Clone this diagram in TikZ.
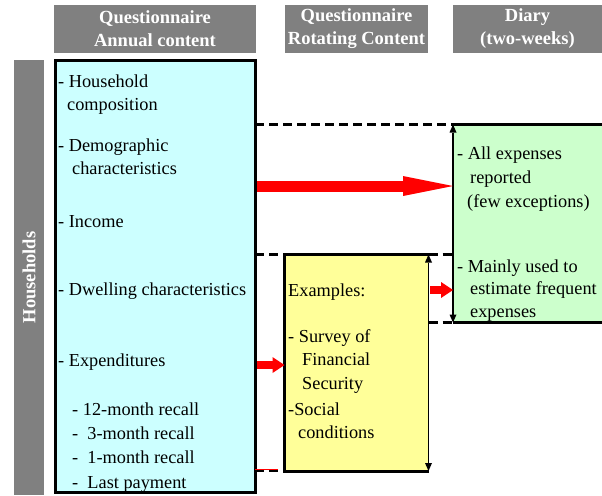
\documentclass[tikz,border=0pt]{standalone}
\usepackage{fontspec}
\setmainfont{Liberation Serif}
\usetikzlibrary{arrows.meta}
\definecolor{hdrgray}{RGB}{128,128,128}
\definecolor{qblue}{RGB}{204,255,255}
\definecolor{qyellow}{RGB}{255,255,153}
\definecolor{dgreen}{RGB}{204,255,204}
\tikzstyle{hdr}=[fill=hdrgray,text=white,font=\bfseries\fontsize{18.5}{23}\selectfont,align=center,inner sep=0pt]
\tikzstyle{panel}=[inner sep=0pt,outer sep=0pt]
\tikzstyle{item}=[anchor=base west,inner sep=0pt,align=left,font=\fontsize{18.3}{23}\selectfont]
\tikzstyle{border}=[draw=black,line width=3pt]
\tikzstyle{guide}=[draw=black,line width=2.5pt,dash pattern=on 9pt off 5pt]
\tikzstyle{span}=[{Triangle[length=8pt,width=7pt,line width=0pt]}-{Triangle[length=8pt,width=7pt,line width=0pt]},draw=black,line width=1.5pt]
\tikzstyle{bigarr}=[-{Triangle[length=50pt,width=20pt,line width=0pt]},red,line width=11pt,shorten <=1.5pt]
\tikzstyle{smallarr}=[-{Triangle[length=12pt,width=16pt,line width=0pt]},red,line width=8pt,shorten <=1.5pt]

\begin{document}
\begin{tikzpicture}[x=1pt,y=-1pt]
        \useasboundingbox (0,0) rectangle (602,495);
        \node[hdr,minimum width=202pt,minimum height=48pt] (hdrA) at (155,29) {Questionnaire\\Annual content};
        \node[hdr,minimum width=143pt,minimum height=48pt] (hdrR) at (356.5,29) {Questionnaire\\Rotating Content};
        \node[hdr,minimum width=150pt,minimum height=48pt] (hdrD) at (527.5,29) {Diary\\(two-weeks)};
        \node[hdr,rotate=90,minimum width=435pt,minimum height=30pt] (hh) at (29,277.5) {Households};
        \node[panel,fill=qblue,border,minimum width=200pt,minimum height=431pt] (annual) at (155,276.5) {};
        \node[panel,fill=dgreen,minimum width=157pt,minimum height=198pt] (diary) at (531.5,223.5) {};
        \node[panel,fill=qyellow,minimum width=144pt,minimum height=216.5pt] (rot) at (356.5,362.75) {};
        \draw[border] (diary.north east) -- (diary.north west);
        \draw[border] (diary.south west) -- (diary.south east);
        \draw[border] (rot.north east) -- (rot.north west) -- (rot.south west) -- (rot.south east);
        \draw[guide] (annual.east |- diary.north) -- (diary.north west);
        \draw[guide] (annual.east |- rot.north) -- (rot.north west);
        \draw[guide] (rot.north east) -- (diary.west |- rot.north);
        \draw[guide] (rot.east |- diary.south) -- (diary.south west);
        \draw[guide] (annual.east |- rot.south) -- (rot.south west);
        \coordinate (cut) at (278,469.5);
        \draw[red,line width=1.3pt] (annual.east |- cut) -- (cut);
        \draw[span] (diary.north west) -- (diary.south west);
        \draw[span] (rot.north east) -- (rot.south east);
        \coordinate (allY) at (0,186);
        \coordinate (freqY) at (0,290);
        \coordinate (expY) at (0,365);
        \draw[bigarr] (annual.east |- allY) -- (diary.west |- allY);
        \draw[smallarr] (rot.east |- freqY) -- (diary.west |- freqY);
        \draw[smallarr] (annual.east |- expY) -- (rot.west |- expY);
        % multi-line items sit on the baseline of their last line
        \node[item] (hhcomp) at (58,110) {- Household\\\hspace*{9pt}composition};
        \node[item] (demo) at (58,174) {- Demographic\\\hspace*{14pt}characteristics};
        \node[item] (income) at (58,227) {- Income};
        \node[item] (dwell) at (58,295) {- Dwelling characteristics};
        \node[item] (expend) at (58,366) {- Expenditures};
        \node[item] (recall) at (72,488) {- 12-month recall\\[1.3pt]-~ 3-month recall\\[1.3pt]-~ 1-month recall\\[1.3pt]-~ Last payment};
        \node[item] (examples) at (288,296) {Examples:};
        \node[item] (sfs) at (288,389) {- Survey of\\[0.5pt]\hspace*{14pt}Financial\\[0.5pt]\hspace*{14pt}Security};
        \node[item] (social) at (288,438) {-Social\\\hspace*{10pt}conditions};
        \node[item] (allexp) at (457,207) {- All expenses\\[1pt]\hspace*{13pt}reported\\[1pt]\hspace*{10pt}(few exceptions)};
        \node[item] (freq) at (457,317) {- Mainly used to\\[-0.5pt]\hspace*{13pt}estimate frequent\\[-0.5pt]\hspace*{13pt}expenses};
      \end{tikzpicture}
\end{document}
